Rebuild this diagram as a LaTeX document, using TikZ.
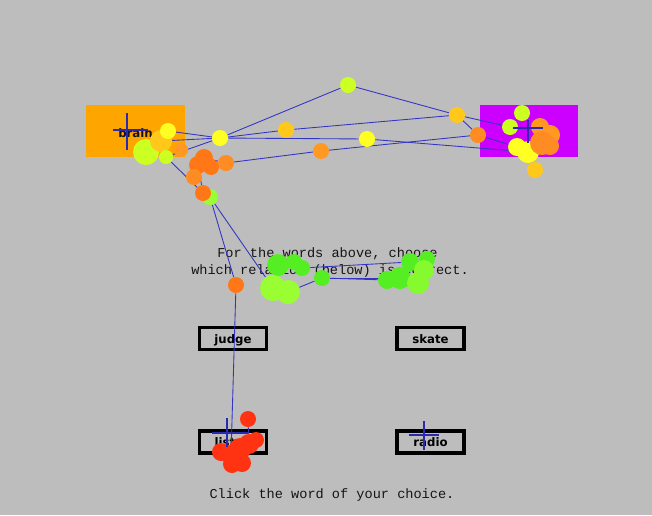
\documentclass[tikz,border=0pt]{standalone}
\usepackage{fontspec}
\setmainfont{DejaVu Sans}
\newfontfamily\monofont{Liberation Mono}
\pgfdeclarelayer{bg}
\pgfdeclarelayer{lines}
\pgfdeclarelayer{front}
\pgfsetlayers{bg,lines,main,front}
\definecolor{bggray}{HTML}{BDBDBD}
\definecolor{brainorange}{HTML}{FFA500}
\definecolor{magbox}{HTML}{CC00FF}
\definecolor{scanblue}{HTML}{3434C4}
\definecolor{crossblue}{HTML}{2A2AB0}
\definecolor{cYel}{HTML}{FFFF22}
\definecolor{cYO}{HTML}{FFC81A}
\definecolor{cYG}{HTML}{CCFF22}
\definecolor{cOr}{HTML}{FF8C22}
\definecolor{cOr2}{HTML}{FF9922}
\definecolor{cOrD}{HTML}{FF7716}
\definecolor{cGr}{HTML}{55EE22}
\definecolor{cLG}{HTML}{99FF33}
\definecolor{cRed}{HTML}{FF3311}
\definecolor{txtdark}{HTML}{151515}
\begin{document}
\begin{tikzpicture}[x=0.75pt,y=-0.75pt,
  fx/.style={circle,inner sep=0pt,minimum size={#1*1.5pt},draw=none},
  scan/.style={draw=scanblue,line width=0.65pt},
  cross/.style={draw=crossblue,line width=0.9pt},
  btn/.style={draw=black,line width=2.4pt,inner sep=0pt,minimum width=50.25pt,minimum height=16.5pt,
    text height=7pt,text depth=0pt,font=\bfseries\fontsize{8.8}{10}\selectfont},
  mono/.style={anchor=base,inner sep=0pt,text=txtdark,font=\monofont\fontsize{10.2}{12}\selectfont}]
\useasboundingbox (0,0) rectangle (652,515);
\begin{pgfonlayer}{bg}
\fill[bggray] (0,0) rectangle (652,515);
\node[fill=brainorange,inner sep=0pt,minimum width=74.25pt,minimum height=39pt,
  text height=9pt,text depth=0pt,text=txtdark,font=\bfseries\fontsize{8.8}{10}\selectfont] (wordA) at (135.5,131) {brain};
\node[fill=magbox,inner sep=0pt,minimum width=73.5pt,minimum height=39pt] (wordB) at (529,131) {};
\node[mono] (q1) at (327.5,257) {For the words above, choose};
\node[mono] (q2) at (330,274) {which relation (below) is correct.};
\node[mono] (q3) at (332,498) {Click the word of your choice.};
\node[btn] (judge) at (233,338.5) {judge};
\node[btn] (skate) at (430.5,338.5) {skate};
\node[btn] (listen) at (233,442) {listen};
\node[btn] (radio) at (430.5,442) {radio};
\end{pgfonlayer}
% fixations
\node[fx=7,fill=cOr2] (b6) at (181,150) {};
\node[fx=13,fill=cYG] (b1) at (146,152) {};
\node[fx=11,fill=cYO] (b2) at (161,141) {};
\node[fx=7,fill=cYG] (b4) at (166,157) {};
\node[fx=8,fill=cYel] (b3) at (168,131) {};
\node[fx=8,fill=cYel] (D) at (220,138) {};
\node[fx=8,fill=cYG] (A) at (348,85) {};
\node[fx=8,fill=cYO] (C) at (286,130) {};
\node[fx=8,fill=cYel] (E) at (367,139) {};
\node[fx=8,fill=cYO] (B) at (457,115) {};
\node[fx=8,fill=cOr] (G) at (478,135) {};
\node[fx=8,fill=cOr2] (F) at (321,151) {};
\node[fx=8,fill=cOr] (H) at (226,163) {};
\node[fx=9,fill=cOrD] (o4) at (204,158) {};
\node[fx=9,fill=cOrD] (o1) at (198,165) {};
\node[fx=8,fill=cOrD] (o2) at (211,167) {};
\node[fx=8,fill=cOr] (o3) at (194,177) {};
\node[fx=8,fill=cLG] (g0) at (210,197) {};
\node[fx=8,fill=cOrD] (o5) at (203,193) {};
% magenta cluster
\node[fx=8,fill=cYG] (mg1) at (510,127) {};
\node[fx=8,fill=cYG] (mg2) at (522,113) {};
\node[fx=9,fill=cOr2] (mg6) at (540,127) {};
\node[fx=10,fill=cOr2] (mg7) at (550,135) {};
\node[fx=9,fill=cYel] (mg3) at (517,147) {};
\node[fx=11,fill=cYel] (mg9) at (528,152) {};
\node[fx=12,fill=cOr] (mg4) at (542,143) {};
\node[fx=9,fill=cOr] (mg8) at (550,146) {};
\node[fx=8,fill=cYO] (mg10) at (535,170) {};
% middle
\node[fx=8,fill=cOrD] (m1) at (236,285) {};
\node[fx=8,fill=cGr] (gl6) at (294,262) {};
\node[fx=11,fill=cGr] (gl1) at (278,265) {};
\node[fx=8,fill=cGr] (gl3) at (302,268) {};
\node[fx=13,fill=cLG] (gl2) at (273,288) {};
\node[fx=12,fill=cLG] (gl5) at (288,292) {};
\node[fx=8,fill=cGr] (gl4) at (322,278) {};
\node[fx=9,fill=cGr] (gr2) at (410,262) {};
\node[fx=8,fill=cGr] (gr5) at (427,259) {};
\node[fx=9,fill=cGr] (gr1) at (387,280) {};
\node[fx=11,fill=cGr] (gr3) at (400,278) {};
\node[fx=10,fill=cLG!70!cGr] (gr6) at (424,270) {};
\node[fx=11,fill=cLG!70!cGr] (gr4) at (418,283) {};
% red cluster
\node[fx=8,fill=cRed] (r1) at (248,419) {};
\node[fx=9,fill=cRed] (r2) at (221,452) {};
\node[fx=10,fill=cRed] (r3) at (231,455) {};
\node[fx=9,fill=cRed] (r4) at (232,464) {};
\node[fx=9,fill=cRed] (r5) at (242,463) {};
\node[fx=11,fill=cRed] (r6) at (240,449) {};
\node[fx=10,fill=cRed] (r7) at (249,444) {};
\node[fx=8,fill=cRed] (r8) at (256,440) {};
\begin{pgfonlayer}{lines}
\draw[scan] (b3) -- (D);
\draw[scan] (b2) -- (D);
\draw[scan] (b4) -- (D);
\draw[scan] (D) -- (A) -- (B) -- (mg1);
\draw[scan] (B) -- (G);
\draw[scan] (D) -- (C) -- (B);
\draw[scan] (D) -- (E) -- (mg9);
\draw[scan] (o4) -- (H) -- (F) -- (G) -- (mg3);
\draw[scan] (mg9) -- (mg10);
\draw[scan] (b4) -- (o5);
\draw[scan] (o1) -- (o5);
\draw[scan] (g0) -- (m1) -- (r3);
\draw[scan] (g0) -- (gl2);
\draw[scan] (gl5) -- (gl4) -- (gr1);
\draw[scan] (gl3) -- (gr2);
\draw[scan] (gl4) -- (gr3);
\draw[scan] (r1) -- (r7);
\end{pgfonlayer}
\begin{pgfonlayer}{front}
\coordinate (ca1) at (127,113); \coordinate (ca2) at (127,150);
\coordinate (ca3) at (113,130); \coordinate (ca4) at (148,130);
\draw[cross] (ca1) -- (ca2) (ca3) -- (ca4);
\coordinate (cb1) at (528,120); \coordinate (cb2) at (528,143);
\coordinate (cb3) at (513,128); \coordinate (cb4) at (543,128);
\draw[cross] (cb1) -- (cb2) (cb3) -- (cb4);
\coordinate (cc1) at (227,418); \coordinate (cc2) at (227,447);
\coordinate (cc3) at (212,433); \coordinate (cc4) at (248,433);
\draw[cross] (cc1) -- (cc2) (cc3) -- (cc4);
\coordinate (cd1) at (424,421); \coordinate (cd2) at (424,450);
\coordinate (cd3) at (409,435); \coordinate (cd4) at (439,435);
\draw[cross] (cd1) -- (cd2) (cd3) -- (cd4);
\end{pgfonlayer}
\end{tikzpicture}
\end{document}
